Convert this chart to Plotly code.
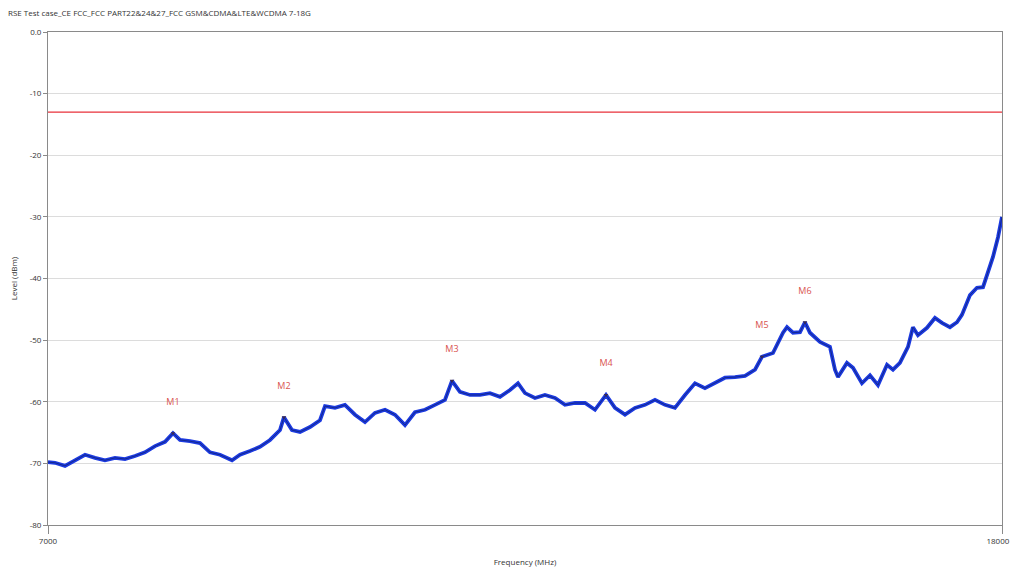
import plotly.graph_objects as go

title_text = "RSE Test case_CE FCC_FCC PART22&24&27_FCC GSM&CDMA&LTE&WCDMA 7-18G"

freq_mhz = [7000, 7081, 7196, 7311, 7427, 7542, 7657, 7773, 7888, 8003, 8118, 8234, 8349, 8441,
            8522, 8637, 8753, 8868, 8983, 9122, 9214, 9329, 9444, 9560, 9675, 9721, 9813, 9906,
            10021, 10136, 10194, 10309, 10424, 10540, 10655, 10770, 10886, 11001, 11116, 11231,
            11347, 11462, 11577, 11658, 11750, 11866, 11981, 12096, 12212, 12327, 12419, 12500,
            12615, 12730, 12846, 12961, 13076, 13192, 13307, 13434, 13538, 13653, 13768, 13884,
            13999, 14114, 14229, 14345, 14460, 14575, 14691, 14806, 14921, 15037, 15152, 15232,
            15359, 15475, 15521, 15590, 15671, 15728, 15786, 15901, 16016, 16074, 16109, 16212,
            16282, 16385, 16478, 16570, 16674, 16743, 16823, 16916, 16973, 17031, 17135, 17227,
            17308, 17400, 17481, 17538, 17631, 17711, 17781, 17838, 17896, 17954, 18000]

level_dbm = [-69.8, -69.9, -70.4, -69.5, -68.6, -69.1, -69.5, -69.1, -69.3, -68.8, -68.2, -67.2, -66.5, -65.1,
             -66.2, -66.4, -66.7, -68.2, -68.6, -69.5, -68.6, -68.0, -67.3, -66.2, -64.6, -62.5, -64.6, -64.9,
             -64.1, -63.0, -60.7, -61.0, -60.5, -62.1, -63.3, -61.8, -61.3, -62.1, -63.8, -61.7,
             -61.3, -60.5, -59.7, -56.6, -58.4, -58.9, -58.9, -58.6, -59.2, -58.1, -57.0, -58.6,
             -59.4, -58.9, -59.4, -60.5, -60.2, -60.2, -61.3, -58.9, -61.0, -62.1, -61.0, -60.5,
             -59.7, -60.5, -61.0, -58.9, -57.0, -57.8, -57.0, -56.1, -56.0, -55.8, -54.8, -52.7,
             -52.1, -48.8, -47.9, -48.8, -48.7, -47.1, -48.8, -50.3, -51.1, -54.8, -56.0, -53.7,
             -54.5, -57.0, -55.7, -57.3, -54.0, -54.8, -53.7, -51.1, -47.9, -49.2, -48.0, -46.4,
             -47.2, -47.9, -47.1, -45.9, -42.7, -41.5, -41.4, -38.9, -36.5, -33.3, -30.0]

limit_freq = [7000, 18000]
limit_level = [-13, -13]

marker_names = ["M1", "M2", "M3", "M4", "M5", "M6"]
marker_freq = [8441, 9721, 11658, 13434, 15232, 15728]
marker_level = [-65.1, -62.5, -56.6, -58.9, -52.7, -47.1]
label_offset_db = 5.0

y_ticks = [0, -10, -20, -30, -40, -50, -60, -70, -80]
y_tick_text = ["0.0", "-10", "-20", "-30", "-40", "-50", "-60", "-70", "-80"]
x_ticks = [7000, 18000]
x_tick_text = ["7000", "18000\u00a0\u00a0\u00a0\u00a0"]

font_family = "Open Sans, Noto Sans, sans-serif"

fig = go.Figure()

fig.add_trace(go.Scatter(x=limit_freq, y=limit_level, mode="lines",
                         line=dict(color="#e8303a", width=1.2), hoverinfo="skip", showlegend=False))

fig.add_trace(go.Scatter(x=freq_mhz, y=level_dbm, mode="lines",
                         line=dict(color="#1c3ae0", width=3.8), showlegend=False))
fig.add_trace(go.Scatter(x=freq_mhz, y=level_dbm, mode="lines",
                         line=dict(color="#13298f", width=1), showlegend=False))

fig.add_trace(go.Scatter(x=marker_freq, y=marker_level, mode="markers",
                         marker=dict(symbol="triangle-down", size=4, color="#3a2a50"),
                         showlegend=False))
fig.add_trace(go.Scatter(x=marker_freq, y=[v + label_offset_db for v in marker_level],
                         mode="text", text=marker_names,
                         textfont=dict(color="#d9534f", size=9, family=font_family),
                         showlegend=False))

fig.update_layout(
    width=1010, height=564,
    margin=dict(l=40, r=16, t=24, b=47, autoexpand=False),
    paper_bgcolor="white", plot_bgcolor="white",
    font=dict(family=font_family, size=8, color="#333333"),
    title=dict(text=title_text, xref="container", x=0.0, xanchor="left",
               yref="container", y=0.995, yanchor="top",
               font=dict(size=8, color="#333333", family=font_family)),
    xaxis=dict(range=[7000, 18000], tickvals=x_ticks, ticktext=x_tick_text,
               showgrid=False, zeroline=False, showline=True, linecolor="#8a8a8a", mirror=True,
               ticks="outside", ticklen=8, tickcolor="#8a8a8a",
               title=dict(text="Frequency (MHz)", font=dict(size=8), standoff=14)),
    yaxis=dict(range=[-80, 0], tickvals=y_ticks, ticktext=y_tick_text,
               showgrid=True, gridcolor="#dcdcdc", zeroline=False,
               showline=True, linecolor="#8a8a8a", mirror=True,
               ticks="outside", ticklen=4, tickcolor="#8a8a8a",
               title=dict(text="Level (dBm)", font=dict(size=8), standoff=10)),
)

fig.write_html("out.html")
